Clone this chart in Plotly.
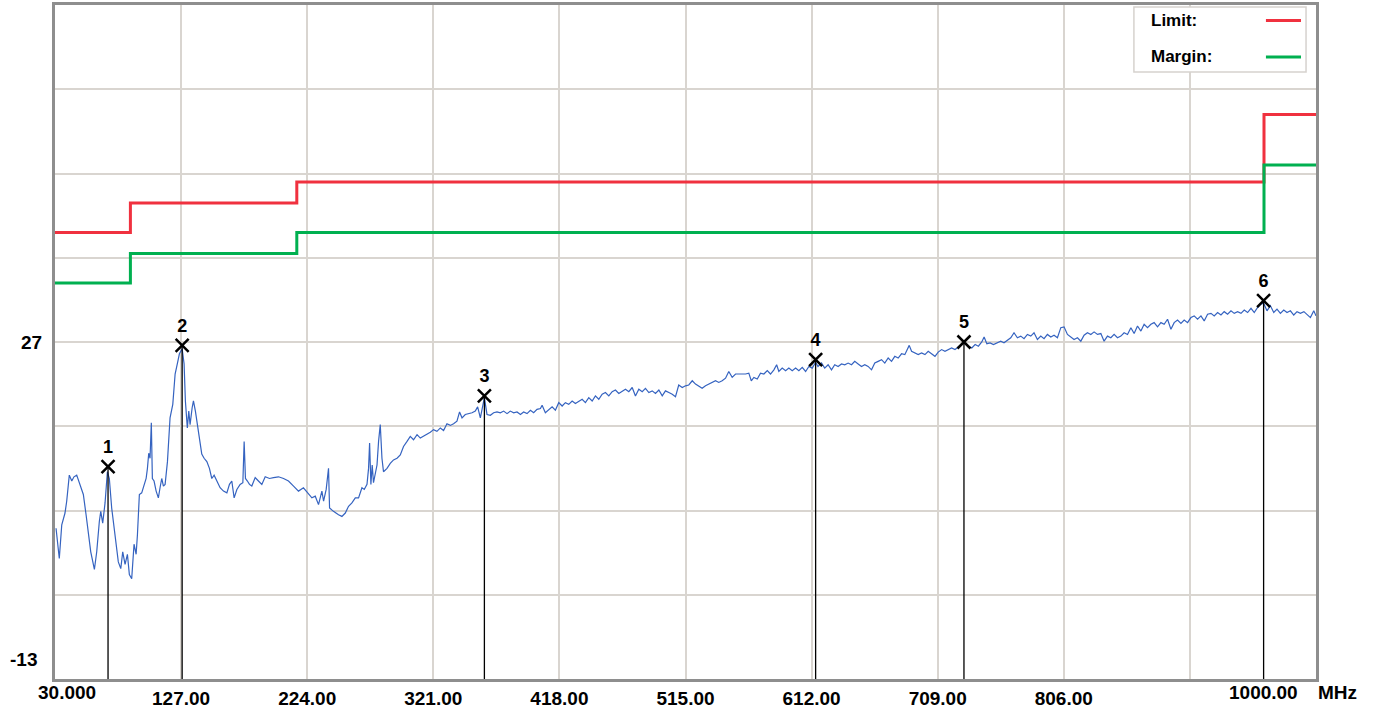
import plotly.graph_objects as go

# --- dati ---------------------------------------------------------------------
# traccia misurata (MHz, dBuV/m)
trace_freq = [
    30.8, 33.3, 35.2, 37.7, 39.0, 41.0, 42.9, 44.6, 46.7, 49.2, 51.8, 53.9, 55.6, 57.5, 60.3,
    62.1, 64.1, 65.2, 66.7, 68.5, 70.3, 71.8, 73.6, 76.2, 78.7, 80.6, 82.1, 83.9, 85.7, 87.2,
    89.0, 90.8, 92.4, 93.4, 94.9, 96.7, 98.5, 100.1, 101.1, 102.1, 103.1, 104.1, 104.9, 106.2,
    107.8, 109.5, 110.8, 112.1, 113.4, 114.7, 116.5, 117.5, 118.5, 120.6, 122.4, 124.2, 125.7,
    127.8, 129.3, 130.3, 131.8, 132.9, 133.9, 135.5, 136.5, 138.0, 139.6, 141.1, 142.9, 144.7,
    146.8, 148.8, 150.6, 152.4, 154.5, 157.0, 159.6, 162.2, 164.2, 166.0, 167.8, 169.9, 172.4,
    174.5, 175.5, 176.5, 178.0, 179.6, 181.4, 184.0, 186.5, 189.1, 191.7, 195.0, 198.1, 201.9,
    205.8, 209.6, 213.5, 217.3, 221.1, 225.0, 227.6, 230.2, 232.7, 235.3, 236.6, 238.6, 240.4,
    241.2, 244.2, 248.1, 250.7, 253.3, 255.8, 258.4, 261.0, 263.5, 266.1, 267.9, 270.0, 271.2,
    272.0, 273.0, 274.0, 275.0, 277.7, 278.9, 280.2, 281.5, 282.7, 285.4, 287.9, 290.4, 293.1,
    295.6, 298.1, 300.8, 303.3, 305.8, 308.5, 311.0, 313.5, 316.2, 318.7, 321.2, 323.8, 326.4,
    328.9, 331.5, 334.1, 336.6, 339.2, 341.2, 343.1, 345.6, 348.2, 350.8, 353.3, 355.1, 357.2,
    360.3, 362.3, 364.9, 367.4, 370.0, 372.6, 375.1, 377.7, 380.3, 382.8, 385.4, 388.0, 390.5,
    393.1, 395.7, 398.2, 400.8, 403.4, 404.7, 407.2, 409.8, 412.4, 414.9, 417.5, 420.1, 422.6,
    425.2, 427.8, 430.3, 432.9, 435.5, 438.0, 440.6, 443.2, 445.7, 448.3, 450.9, 453.4, 456.0,
    458.6, 461.1, 463.7, 466.3, 468.8, 471.4, 474.0, 476.5, 479.1, 481.7, 484.2, 486.8, 489.4,
    491.9, 494.5, 497.1, 499.6, 502.2, 504.8, 507.3, 509.8, 512.5, 515.0, 517.5, 520.2, 522.7,
    525.2, 527.8, 530.4, 532.9, 535.5, 538.1, 540.6, 543.2, 545.8, 548.3, 550.9, 553.5, 556.0,
    558.6, 561.2, 563.7, 565.6, 567.6, 570.2, 572.7, 575.3, 577.9, 580.4, 583.0, 585.1, 586.8,
    589.4, 592.0, 594.5, 597.1, 599.7, 602.2, 604.8, 607.4, 609.9, 612.5, 615.1, 616.9, 619.6,
    622.1, 624.7, 627.3, 629.8, 632.4, 635.0, 637.5, 640.1, 642.7, 645.2, 647.8, 650.4, 652.9,
    655.5, 658.1, 660.6, 663.2, 665.8, 668.3, 670.9, 673.5, 676.0, 678.6, 681.2, 683.7, 685.5,
    687.1, 688.9, 691.5, 694.0, 696.6, 699.2, 701.7, 704.3, 706.9, 709.4, 712.0, 714.6, 717.1,
    719.7, 722.3, 724.8, 727.4, 729.2, 732.6, 735.2, 737.8, 740.3, 742.9, 744.7, 746.8, 749.3,
    751.9, 754.5, 757.5, 760.0, 762.6, 765.2, 767.7, 770.3, 772.9, 775.4, 778.0, 780.6, 783.1,
    785.7, 788.3, 790.8, 793.4, 796.0, 798.5, 801.1, 803.7, 806.2, 808.8, 811.4, 813.9, 816.5,
    819.1, 821.6, 824.2, 826.8, 829.3, 831.9, 834.5, 837.0, 839.6, 842.2, 844.7, 847.3, 849.9,
    852.4, 855.0, 857.6, 860.1, 862.7, 865.3, 867.8, 870.4, 873.0, 875.5, 878.1, 880.7, 883.2,
    885.8, 888.4, 890.9, 893.5, 896.1, 898.6, 901.2, 903.8, 906.3, 908.9, 911.5, 914.0, 916.6,
    919.2, 921.7, 924.3, 926.9, 929.4, 932.0, 934.6, 937.1, 939.7, 942.3, 944.8, 947.4, 950.0,
    952.5, 955.1, 957.7, 959.7, 962.3, 964.9, 967.5, 970.0, 972.6, 975.2, 977.7, 980.3, 982.9,
    985.4, 988.0, 990.7, 993.2, 995.7, 998.3, 1000.0,
]
trace_level = [
    4.9, 1.3, 5.3, 6.7, 8.1, 11.2, 10.5, 11.0, 11.2, 10.1, 8.9, 6.5, 4.1, 2.1, 0.0,
    2.1, 5.7, 6.9, 5.5, 7.9, 11.6, 10.8, 7.3, 4.1, 0.9, 0.1, 2.1, 0.6, 1.8, -0.6,
    -1.1, 3.0, 1.8, 4.1, 8.9, 9.1, 10.1, 10.8, 12.0, 13.8, 13.2, 17.4, 10.8, 10.5,
    9.3, 8.5, 9.7, 10.8, 9.9, 10.1, 12.8, 16.0, 18.0, 19.6, 23.2, 24.5, 25.6,
    26.2, 24.4, 20.0, 16.8, 18.8, 17.2, 19.2, 20.0, 18.8, 17.2, 15.6, 13.7, 13.2,
    12.8, 12.0, 10.8, 11.2, 10.5, 9.7, 9.3, 9.1, 10.1, 10.5, 8.5, 9.5, 10.1,
    10.3, 15.2, 10.8, 10.5, 10.1, 9.9, 10.9, 10.5, 10.1, 11.0, 10.8, 10.9, 11.0,
    10.8, 10.5, 9.9, 9.3, 9.7, 8.9, 8.5, 8.7, 7.7, 9.3, 8.1, 9.5, 12.0,
    7.3, 6.9, 6.5, 6.3, 6.7, 7.5, 7.9, 8.5, 8.5, 9.7, 9.5, 10.1, 12.0,
    15.0, 10.1, 12.4, 10.3, 12.4, 15.2, 17.2, 13.2, 11.6, 12.0, 12.6, 13.0, 13.2,
    13.6, 14.6, 15.2, 15.8, 15.4, 16.0, 15.6, 15.8, 16.0, 16.3, 16.6, 16.4, 16.8,
    16.5, 17.3, 17.1, 17.3, 17.6, 18.7, 18.0, 18.4, 18.5, 18.6, 18.8, 19.3, 18.0,
    20.4, 18.4, 18.3, 18.6, 18.7, 18.6, 18.8, 18.5, 18.8, 18.6, 18.7, 18.4, 18.7,
    18.5, 18.9, 18.6, 19.0, 19.1, 19.5, 18.6, 19.0, 19.3, 18.9, 19.8, 19.4, 19.8,
    19.6, 20.0, 19.7, 20.0, 20.2, 19.8, 20.4, 20.0, 20.6, 20.2, 20.8, 21.0, 20.6,
    21.1, 21.3, 20.9, 21.2, 21.4, 21.1, 21.6, 20.6, 21.4, 21.1, 21.5, 21.0, 21.2,
    20.9, 21.3, 20.6, 21.2, 21.0, 20.8, 20.5, 21.9, 21.6, 21.8, 21.9, 22.4, 22.0,
    21.8, 21.5, 21.8, 22.0, 22.2, 22.4, 22.2, 22.4, 22.7, 23.5, 22.8, 23.2, 23.2,
    23.2, 23.2, 23.3, 22.4, 22.8, 22.6, 23.3, 23.2, 23.6, 23.2, 23.7, 24.3, 23.5,
    23.9, 23.6, 23.9, 23.6, 23.9, 23.6, 24.0, 23.5, 24.1, 23.9, 24.6, 24.1, 24.5,
    23.9, 24.3, 23.7, 24.3, 24.1, 24.4, 24.3, 24.5, 24.3, 24.7, 24.4, 24.1, 24.3,
    24.1, 23.7, 24.5, 24.7, 24.9, 24.5, 25.1, 24.7, 25.3, 25.1, 25.6, 25.5, 26.0,
    26.6, 25.9, 25.7, 25.5, 25.7, 25.5, 25.9, 25.6, 25.3, 25.8, 26.1, 25.9, 26.1,
    26.3, 26.1, 26.4, 26.6, 26.9, 26.5, 26.3, 26.7, 26.5, 27.0, 27.6, 26.8, 26.9,
    26.7, 26.9, 27.1, 26.9, 27.2, 27.5, 28.1, 27.5, 27.7, 27.4, 27.9, 27.7, 28.1,
    27.3, 27.7, 27.4, 27.9, 27.6, 27.8, 27.5, 28.7, 28.8, 27.9, 27.6, 27.3, 27.5,
    27.1, 27.8, 28.1, 27.9, 28.2, 27.9, 28.0, 27.1, 27.7, 27.5, 27.9, 27.5, 27.7,
    28.1, 27.9, 28.7, 28.0, 28.9, 28.3, 29.1, 28.7, 29.1, 29.3, 28.8, 29.3, 29.1,
    29.7, 28.5, 29.3, 29.6, 29.2, 29.6, 29.3, 29.9, 30.1, 29.7, 30.1, 29.5, 30.3,
    30.4, 30.1, 30.5, 30.2, 30.6, 30.3, 30.7, 30.4, 30.6, 30.4, 30.8, 30.5, 31.0,
    30.5, 31.1, 31.5, 31.6, 30.7, 31.3, 30.5, 30.9, 30.4, 30.8, 30.5, 30.7, 30.2,
    30.6, 30.4, 30.6, 30.3, 29.9, 30.7, 30.1,
]

# limite FCC classe B e margine (-6 dB), gradini
limit_freq = [30, 88, 216, 960, 1000]
limit_level = [40, 43.5, 46, 54, 54]
margin_level = [34, 37.5, 40, 48, 48]

# marker
marker_label = ["1", "2", "3", "4", "5", "6"]
marker_freq = [70.8, 127.8, 360.3, 615.1, 729.2, 959.7]
marker_level = [12.2, 26.6, 20.6, 24.9, 27.0, 31.9]

# assi
x_ticks = [127, 224, 321, 418, 515, 612, 709, 806, 903]
x_ticktext = ["127.00", "224.00", "321.00", "418.00", "515.00", "612.00", "709.00", "806.00", ""]
y_ticks = [-3, 7, 17, 27, 37, 47, 57]
y_ticktext = ["", "", "", "27", "", "", ""]

# --- stile ---------------------------------------------------------------------
FONT = "Liberation Sans, Arial, sans-serif"
C_LIMIT = "#f0313f"
C_MARGIN = "#00b050"
C_TRACE = "#3563c0"
C_GRID = "#d9d5d0"
C_FRAME = "#8e8e8e"

fig = go.Figure()

fig.add_trace(go.Scatter(
    x=limit_freq, y=limit_level, mode="lines", line_shape="hv",
    line=dict(color=C_LIMIT, width=3), name="Limit"
))
fig.add_trace(go.Scatter(
    x=limit_freq, y=margin_level, mode="lines", line_shape="hv",
    line=dict(color=C_MARGIN, width=3), name="Margin"
))
fig.add_trace(go.Scatter(
    x=trace_freq, y=trace_level, mode="lines",
    line=dict(color=C_TRACE, width=1.2), name="Trace"
))

# linee verticali dei marker fino all'asse
vx, vy = [], []
for f, l in zip(marker_freq, marker_level):
    vx += [f, f, None]
    vy += [l, -13, None]
fig.add_trace(go.Scatter(
    x=vx, y=vy, mode="lines", line=dict(color="black", width=1.3), hoverinfo="skip"
))
fig.add_trace(go.Scatter(
    x=marker_freq, y=marker_level, mode="markers+text",
    marker=dict(symbol="x-thin", size=13, line=dict(color="black", width=2.5)),
    text=marker_label, textposition="top center",
    textfont=dict(family=FONT, size=18, color="black", weight="bold"),
))

# riquadro legenda personalizzato
fig.add_shape(type="rect", xref="paper", yref="paper", x0=0.8556, x1=0.9921, y0=0.9006, y1=0.997,
              line=dict(color="#d6d2ce", width=1.5), fillcolor="white", layer="above")
for y, c in [(0.9770, C_LIMIT), (0.9228, C_MARGIN)]:
    fig.add_shape(type="line", xref="paper", yref="paper", x0=0.9603, x1=0.9881, y0=y, y1=y,
                  line=dict(color=c, width=3), layer="above")
for y, t in [(0.9777, "Limit:"), (0.9235, "Margin:")]:
    fig.add_annotation(xref="paper", yref="paper", x=0.8675, y=y, text=t, showarrow=False,
                       xanchor="left", yanchor="middle",
                       font=dict(family=FONT, size=17, color="black", weight="bold"))

# etichette fuori dagli assi
lab_font = dict(family=FONT, size=19, color="black", weight="bold")
fig.add_annotation(xref="paper", yref="y", x=0, y=-10.7, text="-13", showarrow=False,
                   xanchor="right", xshift=-16, font=lab_font)
fig.add_annotation(xref="x", yref="paper", x=30, y=0, text="30.000", showarrow=False,
                   xanchor="left", yanchor="top", xshift=-19, yshift=-1, font=lab_font)
fig.add_annotation(xref="x", yref="paper", x=959.7, y=0, text="1000.00", showarrow=False,
                   xanchor="center", yanchor="top", yshift=-1, font=lab_font)
fig.add_annotation(xref="paper", yref="paper", x=1, y=0, text="MHz", showarrow=False,
                   xanchor="left", yanchor="top", xshift=0, yshift=-1, font=lab_font)

fig.update_layout(
    width=1375, height=708,
    margin=dict(l=55, r=59, t=5, b=29),
    paper_bgcolor="white", plot_bgcolor="white",
    showlegend=False,
    font=dict(family=FONT, color="black"),
    xaxis=dict(
        range=[30, 1000], tickvals=x_ticks, ticktext=x_ticktext,
        showgrid=True, gridcolor=C_GRID, gridwidth=2, zeroline=False,
        showline=True, linecolor=C_FRAME, linewidth=3, mirror=True,
        ticks="", tickfont=lab_font, ticklabelstandoff=0, automargin=False,
    ),
    yaxis=dict(
        range=[-13, 67], tickvals=y_ticks, ticktext=y_ticktext,
        showgrid=True, gridcolor=C_GRID, gridwidth=2, zeroline=False,
        showline=True, linecolor=C_FRAME, linewidth=3, mirror=True,
        ticks="", tickfont=lab_font, ticklabelstandoff=6, automargin=False,
    ),
)

# niente margine del body, la figura parte da (0, 0)
fig.write_html(
    "out.html",
    config={"displayModeBar": False},
    post_script="document.body.style.margin='0';document.body.style.overflow='hidden';",
)
